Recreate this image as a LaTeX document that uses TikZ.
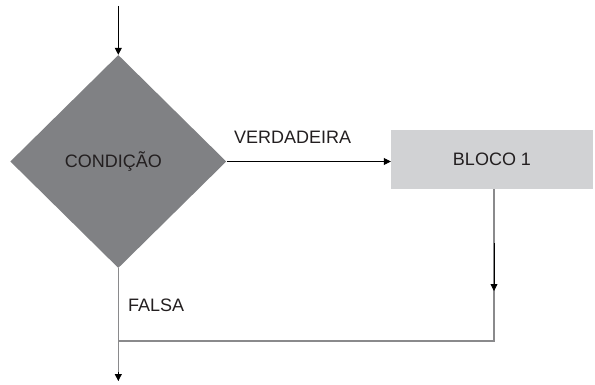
\documentclass[tikz,border=0pt]{standalone}
\usepackage{fontspec}
\setmainfont{Liberation Sans}
\usetikzlibrary{shapes.geometric,arrows.meta}
\definecolor{decfill}{HTML}{808184}
\definecolor{blockfill}{HTML}{D1D2D4}
\definecolor{linegray}{HTML}{8A8A8C}
\definecolor{ink}{HTML}{231F20}
\tikzset{
  lbl/.style={font=\fontsize{18}{20}\selectfont, text=ink},
  decision/.style={diamond, fill=decfill, inner sep=0pt, minimum width=216pt, minimum height=213pt, aspect=1.01, lbl},
  block/.style={rectangle, fill=blockfill, inner sep=0pt, minimum width=202pt, minimum height=59pt, lbl},
  flow/.style={draw=black, line width=0.8pt, -{Triangle[length=7pt,width=7pt]}},
  wire/.style={draw=linegray, line width=1.1pt},
  tag/.style={lbl, inner sep=0pt, anchor=base west},
}
\begin{document}
\begin{tikzpicture}[x=1pt,y=1pt]
  \useasboundingbox (0,0) rectangle (595,384);
  % shapes
  \node[decision] (cond) at (118.3,222.5) {\hspace*{-10pt}CONDIÇÃO};
  \node[block] (bloco) at (492,224.3) {BLOCO 1};
  % anchors for connector ends
  \coordinate (start) at (118.3,378);
  \coordinate (join) at (118.3,43);
  \coordinate (exit) at (118.3,3);
  \coordinate (bmid) at (494,141);
  \coordinate (btip) at (494,93);
  % entry arrow
  \draw[flow] (start) -- (cond.north);
  % true branch
  \draw[flow] (cond.east) -- (bloco.west |- cond.east);
  \node[tag] (vtxt) at (234,240.5) {VERDADEIRA};
  % false branch and merge
  \draw[wire] (cond.south) -- (exit);
  \draw[wire] (bloco.south -| btip) |- (join);
  \draw[flow] (bmid) -- (btip);
  \draw[flow] (118.3,12) -- (exit);
  \node[tag] (ftxt) at (128,73) {FALSA};
\end{tikzpicture}
\end{document}
